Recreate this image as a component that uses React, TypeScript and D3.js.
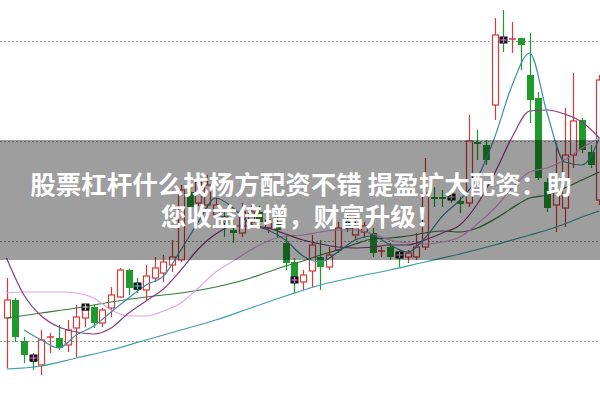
import React from "react";
import * as d3 from "d3";

// candle data (price units), one entry per trading day
const opens = [12.3,14.1,10.0,8.6,7.6,10.3,10.3,9.6,11.3,12.3,13.4,11.8,13.3,14.4,17.1,15.8,15.1,16.3,16.8,17.6,18.1,24.9,23.8,23.6,22.6,22.3,21.1,20.8,21.9,22.9,21.3,21.9,19.8,17.9,15.9,17.0,18.4,17.4,19.1,21.9,20.6,20.9,20.8,18.9,19.4,18.8,18.4,18.4,19.4,24.4,24.4,24.6,24.0,23.8,29.9,29.6,33.6,40.4,40.1,40.3,36.6,34.3,25.9,23.6,23.3,28.6,32.1,28.9,24.1];
const closes = [14.1,10.4,8.6,7.9,10.1,10.4,9.3,11.1,12.4,13.1,11.8,13.1,14.6,17.1,15.3,15.1,16.5,17.3,17.9,18.4,25.1,23.4,25.9,25.6,23.6,21.3,20.8,22.9,22.9,21.9,22.1,21.1,17.8,16.3,16.6,19.6,17.4,18.6,21.3,21.3,21.6,21.5,18.8,19.0,18.4,18.3,18.8,19.4,24.8,24.2,24.2,24.1,23.7,30.0,29.7,28.1,40.6,39.8,40.2,39.6,34.1,26.3,23.3,25.1,28.6,32.0,29.1,27.6,36.1];
const highs = [16.3,14.3,10.4,8.8,11.1,10.8,11.6,12.1,13.6,13.6,13.6,13.3,15.4,17.3,17.2,16.3,17.6,18.4,18.6,20.1,25.6,25.3,26.6,26.6,24.3,23.1,22.1,23.8,23.6,23.5,22.8,22.6,20.6,18.3,17.1,20.6,20.1,19.4,21.9,22.6,22.3,21.9,21.3,19.4,19.8,19.1,19.1,20.8,28.3,25.4,25.1,24.8,24.4,32.6,31.1,30.1,42.3,43.1,41.9,40.3,40.8,34.9,26.3,29.8,33.3,36.8,32.3,29.6,36.6];
const lows = [7.3,9.9,7.8,7.1,6.6,8.8,9.1,8.9,8.4,11.4,11.3,11.4,12.4,14.3,14.6,14.8,14.1,15.9,15.9,16.9,17.9,22.9,23.5,23.3,22.0,20.4,19.8,20.4,21.3,21.3,20.8,20.3,17.1,14.8,15.1,15.4,15.1,17.1,18.8,20.9,20.1,20.3,18.4,18.4,18.1,17.4,17.8,18.1,19.1,23.4,23.4,23.8,22.8,23.4,28.1,27.6,32.1,38.9,38.8,37.1,31.8,26.1,22.9,20.9,21.4,27.3,28.8,27.3,23.6];

// signal markers: day, price, cross colour
const markerDays = [3, 9, 15, 25, 33, 39, 45, 51, 57];
const markerPrices = [8.3, 13.4, 15.5, 22.1, 16.1, 21.6, 18.6, 24.4, 40.1];
const markerColors = ["#e070e0", "#cccccc", "#40c8c8", "#cccccc", "#e070e0", "#40c8c8", "#cccccc", "#cccccc", "#e070e0"];

// moving averages
const ma5Days = d3.range(2, 69, 2);
const ma5 = [11.1,10.1,9.3,10.6,11.5,12.9,14.3,15.6,16.5,19.1,21.9,24.3,23.3,21.7,21.1,20.1,18.5,17.9,18.9,20.1,20.5,19.6,18.9,20.3,22.5,24.1,26.3,30.4,35.6,38.8,32.8,27.9,27.6,30.3];
const ma10Days = d3.range(0, 69, 2);
const ma10 = [18.3,14.6,12.5,11.4,10.9,10.7,11.3,12.8,14.0,15.2,17.1,19.2,20.7,21.5,21.5,21.3,20.7,20.1,19.7,19.4,19.3,19.4,19.6,19.6,20.1,20.8,21.6,23.7,26.8,30.4,33.0,33.1,32.7,31.9,30.3];
const ma20Days = d3.range(0, 69, 2);
const ma20 = [14.8,14.9,14.9,14.9,14.8,14.3,13.1,12.5,12.5,13.0,13.8,15.3,16.9,18.0,19.1,20.0,20.5,20.6,20.9,21.1,21.1,20.7,20.1,19.8,19.7,19.9,20.4,21.7,23.3,25.3,26.9,27.3,28.1,29.3,30.3];
const ma30Days = [0,4,8,12,16,20,24,28,30,32,34,36,38,40,42,44,46,48,50,52,54,56,58,60,62,64,66,68];
const ma30 = [12.3,12.8,13.3,13.9,14.4,14.8,15.4,16.3,16.9,17.5,18.0,18.6,19.1,19.7,20.2,20.3,20.5,20.8,21.0,20.9,21.3,22.2,23.3,24.3,24.6,25.3,26.1,26.9];
const ma60Days = [0,4,8,12,16,20,24,28,32,36,40,44,48,52,56,60,62,64,66,68];
const ma60 = [7.2,7.5,8.3,9.1,10.1,11.1,12.1,13.3,14.5,15.6,16.4,17.1,17.9,18.7,19.6,20.6,21.1,21.7,22.4,23.0];

const gridPrices = [10, 20, 30, 40];
const titleLines = ["股票杠杆什么找杨方配资不错 提盈扩大配资：助", "您收益倍增，财富升级！"];

const W = 600, H = 400;
const UP = "#d43a3a", DOWN = "#1f9a2c";

export default function App() {
  const x = d3.scaleLinear().domain([0, 68]).range([6.5, 599.4]);
  const y = d3.scaleLinear().domain([0, 40]).range([441, 41]);
  const line = d3.line<[number, number]>().x(d => x(d[0])).y(d => y(d[1])).curve(d3.curveMonotoneX);
  const mk = (days: number[], vals: number[]) => line(days.map((d, i) => [d, vals[i]] as [number, number])) || "";

  const series = [
    { days: ma60Days, vals: ma60, color: "#3f9fa3" },
    { days: ma30Days, vals: ma30, color: "#357a3c" },
    { days: ma20Days, vals: ma20, color: "#e4a2e4" },
    { days: ma10Days, vals: ma10, color: "#8a3c7e" },
    { days: ma5Days, vals: ma5, color: "#3f8ea6" },
  ];

  return (
    <svg width={W} height={H} style={{ position: "absolute", left: 0, top: 0, background: "#fff" }}>
      <rect x={0} y={0} width={W} height={H} fill="#fff" />
      {gridPrices.map(p => (
        <line key={p} x1={0} x2={W} y1={Math.round(y(p)) + 0.5} y2={Math.round(y(p)) + 0.5}
          stroke="#9a9a9a" strokeWidth={1} strokeDasharray="2,2" />
      ))}
      {opens.map((o, i) => {
        const c = closes[i];
        const up = c >= o;
        const col = up ? UP : DOWN;
        const cx = Math.round(x(i)) + 0.5;
        const top = y(Math.max(o, c));
        const bot = y(Math.min(o, c));
        const h = bot - top;
        return (
          <g key={i}>
            <line x1={cx} x2={cx} y1={y(highs[i])} y2={y(lows[i])} stroke={col} strokeWidth={1.2} />
            {h < 1.5 ? (
              <line x1={cx - 3.5} x2={cx + 3.5} y1={top} y2={top} stroke={col} strokeWidth={1.5} />
            ) : up ? (
              <rect x={cx - 3} y={top} width={6} height={h} fill="#fff" stroke={col} strokeWidth={1.2} />
            ) : (
              <rect x={cx - 3.5} y={top} width={7} height={h} fill={col} />
            )}
          </g>
        );
      })}
      {series.map((s, k) => (
        <path key={k} d={mk(s.days, s.vals)} fill="none" stroke={s.color} strokeWidth={1.2} />
      ))}
      {markerDays.map((d, k) => {
        const cx = Math.round(x(d)) + 0.5;
        const cy = y(markerPrices[k]);
        return (
          <g key={k}>
            <rect x={cx - 4} y={cy - 3.5} width={8} height={7} fill="#111" />
            <line x1={cx - 3} x2={cx + 3} y1={cy} y2={cy} stroke={markerColors[k]} strokeWidth={1.2} />
            <line x1={cx} x2={cx} y1={cy - 3} y2={cy + 3} stroke={markerColors[k]} strokeWidth={1.2} />
          </g>
        );
      })}
      <rect x={0} y={140} width={W} height={120} fill="#000" opacity={0.38} />
      {titleLines.map((t, k) => (
        <text key={k} x={301} y={194 + k * 32} textAnchor="middle" fill="#fff"
          fontFamily="'Noto Sans CJK SC', 'Noto Sans', sans-serif" fontWeight={700} fontSize={25.5}>
          {t}
        </text>
      ))}
    </svg>
  );
}
